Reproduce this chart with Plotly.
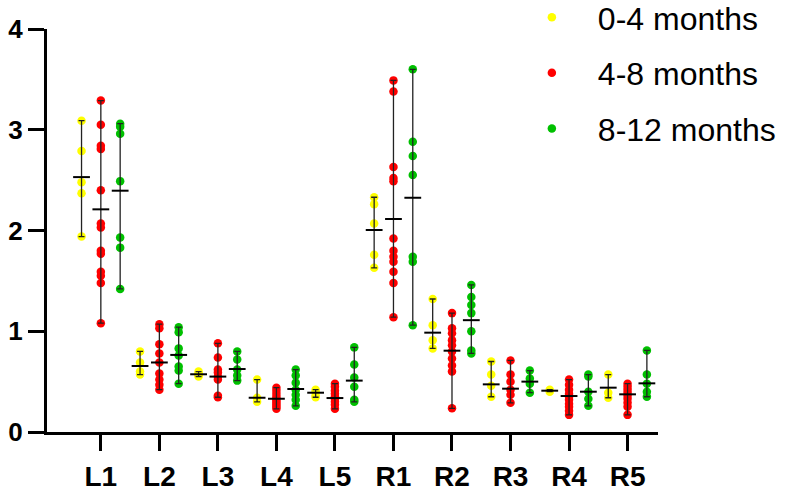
import plotly.graph_objects as go

categories = ["L1", "L2", "L3", "L4", "L5", "R1", "R2", "R3", "R4", "R5"]
group_names = ["0-4 months", "4-8 months", "8-12 months"]
group_colors = ["#FFFF00", "#FF0000", "#00C000"]

# individual values per category, per age group
vals_0_4 = [
    [3.09, 2.79, 2.48, 2.37, 1.94],
    [0.80, 0.69, 0.60, 0.57],
    [0.60, 0.58, 0.56, 0.55],
    [0.52, 0.34, 0.30],
    [0.42, 0.40, 0.36, 0.345],
    [2.33, 2.26, 2.07, 1.76, 1.63],
    [1.32, 1.06, 0.91, 0.83],
    [0.70, 0.57, 0.46, 0.35],
    [0.42, 0.40],
    [0.57, 0.39, 0.34],
]
vals_4_8 = [
    [3.29, 3.05, 2.84, 2.81, 2.40, 2.07, 2.03, 1.80, 1.77, 1.59, 1.55, 1.48, 1.08],
    [1.07, 1.03, 0.87, 0.78, 0.69, 0.58, 0.52, 0.47, 0.42],
    [0.88, 0.74, 0.62, 0.59, 0.55, 0.52, 0.36, 0.345],
    [0.44, 0.41, 0.38, 0.35, 0.33, 0.31, 0.29, 0.27, 0.25, 0.23],
    [0.48, 0.45, 0.41, 0.38, 0.35, 0.33, 0.30, 0.27, 0.23],
    [3.49, 3.38, 2.63, 2.52, 2.49, 1.92, 1.80, 1.74, 1.69, 1.59, 1.48, 1.14],
    [1.18, 1.03, 0.98, 0.91, 0.86, 0.80, 0.73, 0.66, 0.60, 0.235],
    [0.71, 0.57, 0.50, 0.42, 0.37, 0.29],
    [0.52, 0.47, 0.42, 0.38, 0.35, 0.32, 0.28, 0.25, 0.21, 0.17],
    [0.48, 0.45, 0.42, 0.39, 0.36, 0.33, 0.29, 0.25, 0.17],
]
vals_8_12 = [
    [3.06, 3.03, 2.96, 2.49, 1.93, 1.83, 1.42],
    [1.04, 0.99, 0.83, 0.76, 0.65, 0.61, 0.48],
    [0.80, 0.72, 0.62, 0.56, 0.51],
    [0.62, 0.56, 0.49, 0.42, 0.37, 0.32, 0.26],
    [0.84, 0.67, 0.54, 0.45, 0.32, 0.30],
    [3.60, 2.88, 2.74, 2.55, 1.74, 1.69, 1.06],
    [1.46, 1.34, 1.26, 1.18, 1.00, 0.81, 0.78],
    [0.61, 0.53, 0.48, 0.39],
    [0.57, 0.55, 0.40, 0.33, 0.26],
    [0.81, 0.57, 0.48, 0.40, 0.35],
]

# group means as shown by the horizontal bars
means_0_4 = [2.53, 0.655, 0.573, 0.34, 0.39, 2.005, 0.986, 0.473, 0.41, 0.44]
means_4_8 = [2.21, 0.69, 0.55, 0.33, 0.337, 2.114, 0.807, 0.43, 0.357, 0.374]
means_8_12 = [2.395, 0.765, 0.625, 0.427, 0.51, 2.325, 1.11, 0.50, 0.40, 0.483]

all_vals = [vals_0_4, vals_4_8, vals_8_12]
all_means = [means_0_4, means_4_8, means_8_12]
offsets = [-0.33, 0.0, 0.33]

fig = go.Figure()

for g in range(3):
    xs, ys = [], []
    for ci, vlist in enumerate(all_vals[g]):
        for v in vlist:
            xs.append(ci + offsets[g])
            ys.append(v)
    fig.add_trace(go.Scatter(
        x=xs, y=ys, mode="markers", name=group_names[g],
        legendgroup=group_names[g],
        marker=dict(size=8.5, color=group_colors[g], line=dict(width=0)),
    ))

for g in range(3):
    mx = [ci + offsets[g] for ci in range(len(categories))]
    my = all_means[g]
    plus = [max(v) - m for v, m in zip(all_vals[g], my)]
    minus = [m - min(v) for v, m in zip(all_vals[g], my)]
    fig.add_trace(go.Scatter(
        x=mx, y=my, mode="markers", showlegend=False, hoverinfo="skip",
        marker=dict(symbol="line-ew", size=12, color="black",
                    line=dict(width=2, color="black")),
        error_y=dict(type="data", symmetric=False, array=plus, arrayminus=minus,
                     color="#222222", thickness=1.3, width=3),
    ))

fig.update_layout(
    width=790, height=494,
    margin=dict(l=47, r=132, t=29, b=62, autoexpand=False),
    paper_bgcolor="white", plot_bgcolor="white",
    font=dict(family="Liberation Sans, Arial, sans-serif", color="black"),
    legend=dict(
        x=0.751, y=1.097, xanchor="left", yanchor="top",
        font=dict(size=32, color="black"),
        itemwidth=82, traceorder="grouped", tracegroupgap=11,
        bgcolor="rgba(0,0,0,0)",
    ),
    xaxis=dict(
        range=[-0.92, 9.52], tickmode="array",
        tickvals=list(range(len(categories))), ticktext=categories,
        showline=True, linewidth=3, linecolor="black",
        ticks="outside", ticklen=16, tickwidth=3, tickcolor="black",
        tickfont=dict(size=28, weight="bold"), ticklabelstandoff=1,
        showgrid=False, zeroline=False,
    ),
    yaxis=dict(
        range=[0, 4], tickvals=[0, 1, 2, 3, 4],
        showline=True, linewidth=3, linecolor="black",
        ticks="outside", ticklen=16, tickwidth=3, tickcolor="black",
        tickfont=dict(size=26, weight="bold"),
        showgrid=False, zeroline=False,
    ),
)

fig.write_html("out.html")
